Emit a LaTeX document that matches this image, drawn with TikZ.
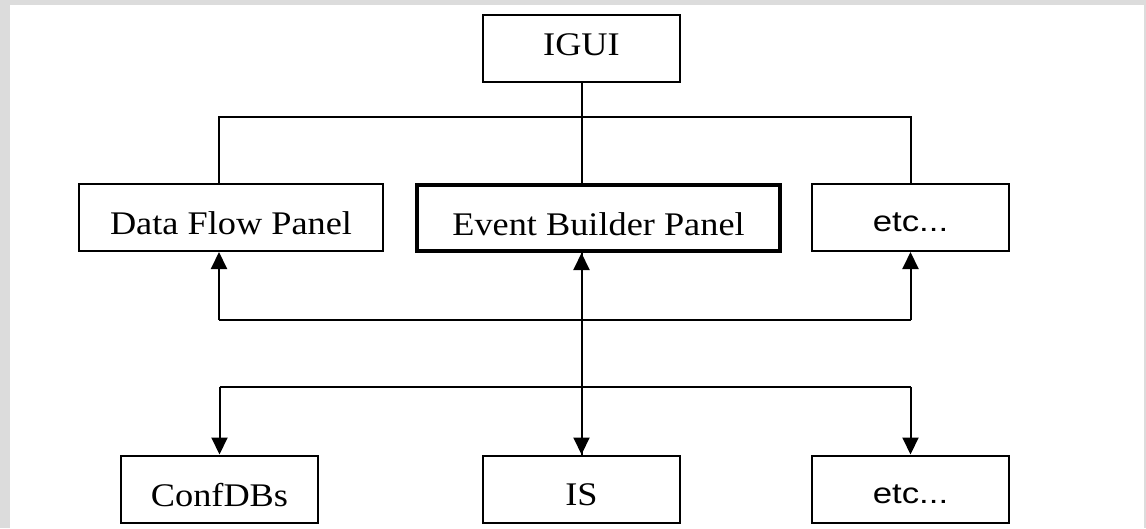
\documentclass[tikz,border=0pt]{standalone}
\usepackage{graphicx}
\usepackage{fontspec}
\setmainfont{Liberation Serif}
\newfontfamily\etcfont{Liberation Sans}
\usetikzlibrary{arrows.meta}
\definecolor{bggray}{HTML}{DCDCDC}
\newcommand\boxlbl[2]{\raisebox{#1}[\height][\depth]{\scalebox{1.1}[1]{#2}}}
\newcommand\etclbl{\raisebox{-5pt}[\height][\depth]{\etcfont\fontsize{29}{32}\selectfont\scalebox{1.2}[1]{etc...}}}
\begin{document}
\begin{tikzpicture}[x=1pt,y=-1pt,
  box/.style={draw,line width=2pt,inner sep=0pt,minimum width=197pt,minimum height=67pt,font=\fontsize{33}{36}\selectfont},
  conn/.style={line width=2pt},
  arr/.style={line width=2pt,-{Triangle[width=16pt,length=17pt]}}]
\useasboundingbox (0,0) rectangle (1146,528);
\fill[bggray] (0,0) rectangle (1146,528);
\fill[white] (10,5) rectangle (1144,528);
\node[box] (igui) at (581.5,48.5) {\boxlbl{4pt}{IGUI}};
\node[box,minimum width=304pt] (dfp) at (231,217.5) {\boxlbl{-6pt}{Data Flow Panel}};
\node[box,line width=4pt,minimum width=363pt,minimum height=66pt] (eb) at (598.5,218) {\boxlbl{-6pt}{Event Builder Panel}};
\node[box] (etc1) at (910.5,217.5) {\etclbl};
\node[box] (conf) at (219.5,489) {\boxlbl{-6pt}{ConfDBs}};
\node[box] (is) at (581.5,489) {\boxlbl{-6pt}{IS}};
\node[box] (etc2) at (910.5,489) {\etclbl};
\coordinate (tL) at (219,117);
\coordinate (tR) at (910.5,117);
\coordinate (mL) at (219,320);
\coordinate (mR) at (910.5,320);
\coordinate (bL) at (219.5,387);
\coordinate (bR) at (910.5,387);
\draw[conn] (igui.south) -- (igui.south |- eb.north);
\draw[conn] (dfp.north -| tL) -- (tL) -- (tR) -- (etc1.north);
\draw[conn] (mL) -- (mR);
\draw[arr] (mL) -- (dfp.south -| mL);
\draw[arr] (mR) -- (etc1.south);
\draw[arr] (is.north) -- (eb.south -| is.north);
\draw[arr] (eb.south -| is.north) -- (is.north);
\draw[conn] (bL) -- (bR);
\draw[arr] (bL) -- (conf.north);
\draw[arr] (bR) -- (etc2.north);
\end{tikzpicture}
\end{document}
